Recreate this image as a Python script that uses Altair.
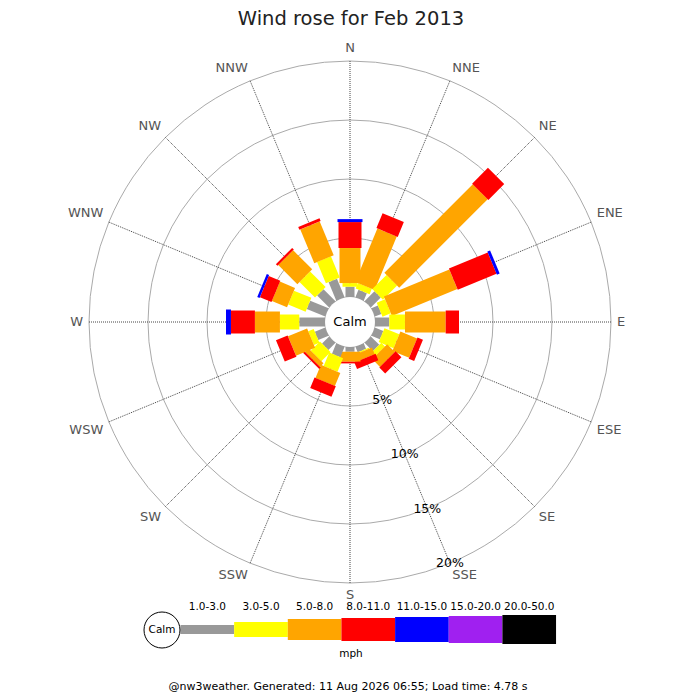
import math

import altair as alt
import pandas as pd

DIRECTIONS = ["N", "NNE", "NE", "ENE", "E", "ESE", "SE", "SSE",
              "S", "SSW", "SW", "WSW", "W", "WNW", "NW", "NNW"]
SPEED_RANGES = ["1.0-3.0", "3.0-5.0", "5.0-8.0", "8.0-11.0",
                "11.0-15.0", "15.0-20.0", "20.0-50.0"]

# % of the month, per direction (N .. NNW), one list per speed band
PCT_1_3 = [0.87, 0.68, 1.19, 0.60, 1.21, 0.78, 1.00, 0.50,
           0.40, 0.95, 0.85, 0.95, 2.18, 1.69, 1.44, 1.69]
PCT_3_5 = [0.31, 0.51, 1.70, 0.76, 1.33, 1.36, 0.44, 0.10,
           0.00, 1.23, 1.10, 0.50, 1.64, 1.60, 1.86, 1.95]
PCT_5_8 = [2.97, 4.90, 10.60, 6.00, 3.45, 1.53, 0.93, 0.60,
           0.85, 1.20, 0.42, 1.75, 2.12, 1.39, 2.29, 3.10]
PCT_8_11 = [2.20, 1.36, 1.90, 3.56, 1.13, 0.50, 0.70, 0.60,
            0.14, 0.96, 0.17, 1.07, 2.03, 1.06, 0.20, 0.25]
PCT_11_15 = [0.25, 0.00, 0.00, 0.25, 0.00, 0.00, 0.00, 0.00,
             0.00, 0.00, 0.00, 0.00, 0.42, 0.21, 0.00, 0.00]
PCT_15_20 = [0.00, 0.00, 0.00, 0.00, 0.00, 0.00, 0.00, 0.00,
             0.00, 0.00, 0.00, 0.00, 0.00, 0.00, 0.00, 0.00]
PCT_20_50 = [0.00, 0.00, 0.00, 0.00, 0.00, 0.00, 0.00, 0.00,
             0.00, 0.00, 0.00, 0.00, 0.00, 0.00, 0.00, 0.00]

RING_PCTS = [5, 10, 15, 20]
RING_LABELS = ["5%", "10%", "15%", "20%"]

TITLE = "Wind rose for Feb 2013"
FOOTER = "@nw3weather. Generated: 11 Aug 2026 06:55; Load time: 4.78 s"
UNIT = "mph"
CALM_LABEL = "Calm"

# styles
SPEED_COLORS = ["#999999", "#ffff00", "#ffa500", "#ff0000",
                "#0000ff", "#a020f0", "#000000"]
SPEED_WIDTHS = [9, 15, 21, 23, 25, 27, 29]
FONT = "DejaVu Sans"

# layout (page pixels)
SIZE = 684
CX, CY = 350, 322
PX_PER_PCT = 11.8
CALM_PX = 25
CALM = CALM_PX / PX_PER_PCT
OUTER = CALM + RING_PCTS[-1]
LABEL_R = OUTER + 6 / PX_PER_PCT
LEG_X0, LEG_STEP, LEG_Y = 180.5, 53.65, 629.5


def ux(px):
    return (px - CX) / PX_PER_PCT


def uy(py):
    return (CY - py) / PX_PER_PCT


X_SCALE = alt.Scale(domain=[ux(8), ux(8 + SIZE)], nice=False, zero=False)
Y_SCALE = alt.Scale(domain=[uy(8 + SIZE), uy(8)], nice=False, zero=False)
COLOR_SCALE = alt.Scale(domain=SPEED_RANGES, range=SPEED_COLORS)
WIDTH_SCALE = alt.Scale(type="ordinal", domain=SPEED_RANGES, range=SPEED_WIDTHS)


def xy(fx, fy):
    return dict(x=alt.X(fx, type="quantitative", scale=X_SCALE, axis=None),
                y=alt.Y(fy, type="quantitative", scale=Y_SCALE, axis=None))


def text_layer(df, size, color="black", align="center", baseline="middle"):
    return alt.Chart(df).mark_text(
        font=FONT, fontSize=size, color=color, align=align, baseline=baseline
    ).encode(**xy("x", "y"), text="text:N")


# bar segments
bands = [PCT_1_3, PCT_3_5, PCT_5_8, PCT_8_11, PCT_11_15, PCT_15_20, PCT_20_50]
rows = []
for i, name in enumerate(DIRECTIONS):
    a = math.radians(i * 22.5)
    r = CALM
    for speed, values in zip(SPEED_RANGES, bands):
        v = values[i]
        if v > 0:
            rows.append({"direction": name, "speed": speed,
                         "x0": r * math.sin(a), "y0": r * math.cos(a),
                         "x1": (r + v) * math.sin(a), "y1": (r + v) * math.cos(a)})
        r += v
segments = pd.DataFrame(rows)

# spokes and compass labels
spoke_rows, label_rows = [], []
for i, name in enumerate(DIRECTIONS):
    a = math.radians(i * 22.5)
    s, c = math.sin(a), math.cos(a)
    spoke_rows.append({"x": 0, "y": 0, "x1": OUTER * s, "y1": OUTER * c})
    align = "left" if s > 0.1 else ("right" if s < -0.1 else "center")
    baseline = "bottom" if c > 0.1 else ("top" if c < -0.1 else "middle")
    label_rows.append({"text": name, "x": LABEL_R * s, "y": LABEL_R * c,
                       "align": align, "baseline": baseline})
spokes = pd.DataFrame(spoke_rows)
compass = pd.DataFrame(label_rows)

rings = pd.DataFrame({"pct": RING_PCTS, "x": 0, "y": 0})
a_sse = math.radians(157.5)
ring_labels = pd.DataFrame({
    "text": RING_LABELS,
    "x": [(CALM + p) * math.sin(a_sse) for p in RING_PCTS],
    "y": [(CALM + p) * math.cos(a_sse) for p in RING_PCTS],
})

layers = []

layers.append(alt.Chart(rings).mark_arc(
    filled=False, stroke="#aaaaaa", strokeWidth=1, theta=0, theta2=2 * math.pi
).encode(
    **xy("x", "y"),
    radius=alt.Radius("pct:Q", stack=None, scale=alt.Scale(
        type="linear", domain=[0, 20], range=[CALM_PX, CALM_PX + 20 * PX_PER_PCT]))
))

layers.append(alt.Chart(spokes).mark_rule(
    stroke="#444444", strokeWidth=1, strokeDash=[1, 1]
).encode(**xy("x", "y"), x2="x1:Q", y2="y1:Q"))

layers.append(alt.Chart(segments).mark_rule(strokeCap="butt").encode(
    **xy("x0", "y0"), x2="x1:Q", y2="y1:Q",
    color=alt.Color("speed:N", scale=COLOR_SCALE, legend=None),
    strokeWidth=alt.StrokeWidth("speed:N", scale=WIDTH_SCALE, legend=None),
))

calm_centre = pd.DataFrame({"text": [CALM_LABEL], "x": [0], "y": [0]})
layers.append(alt.Chart(calm_centre).mark_arc(
    theta=0, theta2=2 * math.pi, radius=CALM_PX, fill="white"
).encode(**xy("x", "y")))
layers.append(text_layer(calm_centre, 13))

for (align, baseline), grp in compass.groupby(["align", "baseline"]):
    layers.append(text_layer(grp[["text", "x", "y"]], 13, "#555555", align, baseline))

layers.append(text_layer(ring_labels, 12.5))

# title and footer
layers.append(text_layer(pd.DataFrame({"text": [TITLE], "x": [ux(351)], "y": [uy(25)]}),
                         19.5, "#222222", baseline="alphabetic"))
layers.append(text_layer(pd.DataFrame({"text": [FOOTER], "x": [ux(348)], "y": [uy(690)]}),
                         11, baseline="alphabetic"))

# legend
legend = pd.DataFrame({
    "speed": SPEED_RANGES,
    "text": SPEED_RANGES,
    "x0": [ux(LEG_X0 + k * LEG_STEP) for k in range(len(SPEED_RANGES))],
    "x1": [ux(LEG_X0 + (k + 1) * LEG_STEP) for k in range(len(SPEED_RANGES))],
    "x": [ux(LEG_X0 + (k + 0.5) * LEG_STEP) for k in range(len(SPEED_RANGES))],
    "y": uy(607),
    "yb": uy(LEG_Y),
})
layers.append(alt.Chart(legend).mark_rule(strokeCap="butt").encode(
    **xy("x0", "yb"), x2="x1:Q",
    color=alt.Color("speed:N", scale=COLOR_SCALE, legend=None),
    strokeWidth=alt.StrokeWidth("speed:N", scale=WIDTH_SCALE, legend=None),
))
layers.append(text_layer(legend[["text", "x", "y"]], 10.5))

legend_calm = pd.DataFrame({"text": [CALM_LABEL], "x": [ux(162)], "y": [uy(630)]})
layers.append(alt.Chart(legend_calm).mark_arc(
    theta=0, theta2=2 * math.pi, radius=18, fill="white", stroke="black", strokeWidth=1
).encode(**xy("x", "y")))
layers.append(text_layer(legend_calm, 10.5))
layers.append(text_layer(pd.DataFrame({"text": [UNIT], "x": [ux(351)], "y": [uy(654)]}), 10.5))

chart = alt.layer(*layers).properties(
    width=SIZE, height=SIZE,
    autosize=alt.AutoSizeParams(type="none"),
    padding=0,
).configure_view(stroke=None)

chart.save("out.html", embed_options={"renderer": "svg", "actions": False})
